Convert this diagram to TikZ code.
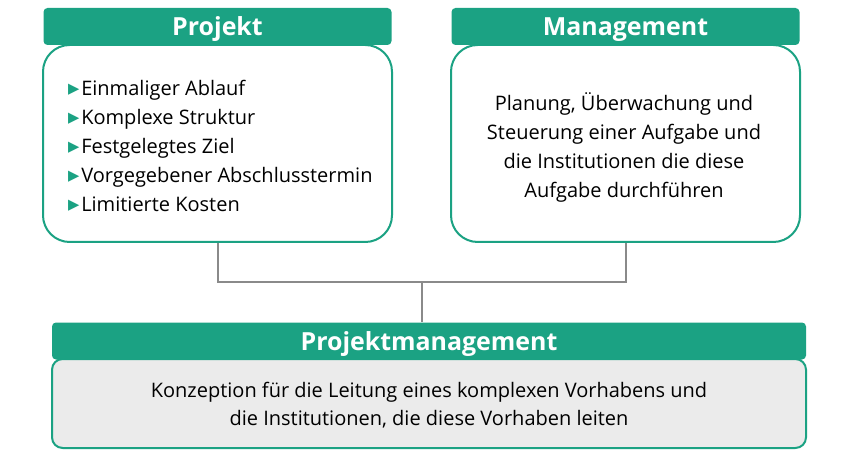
\documentclass[tikz,border=0pt]{standalone}
\usepackage{fontspec}
\setmainfont{Open Sans}
\newfontfamily\symbolfont{DejaVu Sans}
\definecolor{PMGreen}{HTML}{1BA283}
\definecolor{PMGray}{HTML}{EBEBEB}
\definecolor{PMLine}{HTML}{8A8A8A}
\tikzset{
  headbox/.style={fill=PMGreen,rounded corners=3pt,inner sep=0pt,
    text=white,font=\bfseries\fontsize{18.7}{20}\selectfont,
    minimum height=27.75pt,text height=14pt,text depth=0pt},
  bodybox/.style={draw=PMGreen,line width=1.5pt,inner sep=0pt},
  bodytext/.style={inner sep=0pt,font=\fontsize{15}{21.75}\selectfont}
}
\newcommand{\pmbullet}{\raisebox{1.2pt}{\symbolfont\color{PMGreen}\fontsize{11}{11}\selectfont ▶}\hspace{1.5pt}}

\begin{document}
\begin{tikzpicture}[x=0.75pt,y=-0.75pt,line width=1.5pt]
  \useasboundingbox (0,0) rectangle (841,459);

  \node[bodybox,fill=white,rounded corners=20pt,minimum width=261.75pt,minimum height=147.75pt]
    (projektbody) at (217.5,143.5) {};
  \node[bodybox,fill=white,rounded corners=20pt,minimum width=261.75pt,minimum height=147.75pt]
    (managementbody) at (625.5,143.5) {};
  \node[bodybox,fill=PMGray,rounded corners=8pt,minimum width=565.5pt,minimum height=66.75pt]
    (pmbody) at (429,403.5) {};

  \node[headbox,minimum width=261pt] (projekt) at (217.5,26.5) {Projekt};
  \node[headbox,minimum width=261pt] (management) at (625.5,26.5) {Management};
  \node[headbox,minimum width=565.5pt] (pm) at (429,341) {Projektmanagement};

  \node[bodytext,align=left,anchor=west] (projektlist) at (67,146)
    {\pmbullet Einmaliger Ablauf\\
     \pmbullet Komplexe Struktur\\
     \pmbullet Festgelegtes Ziel\\
     \pmbullet Vorgegebener Abschlusstermin\\
     \pmbullet Limitierte Kosten};
  \node[bodytext,align=center] (managementtext) at (624,147)
    {Planung, Überwachung und\\
     Steuerung einer Aufgabe und\\
     die Institutionen die diese\\
     Aufgabe durchführen};
  \node[bodytext,align=center,font=\fontsize{15}{21}\selectfont] (pmtext) at (429,405)
    {Konzeption für die Leitung eines komplexen Vorhabens und\\
     die Institutionen, die diese Vorhaben leiten};

  \coordinate (join) at (422,282);
  \draw[PMLine] (projektbody.south) |- (join) -| (managementbody.south);
  \draw[PMLine] (join) -- (join |- pm.north);
\end{tikzpicture}
\end{document}
